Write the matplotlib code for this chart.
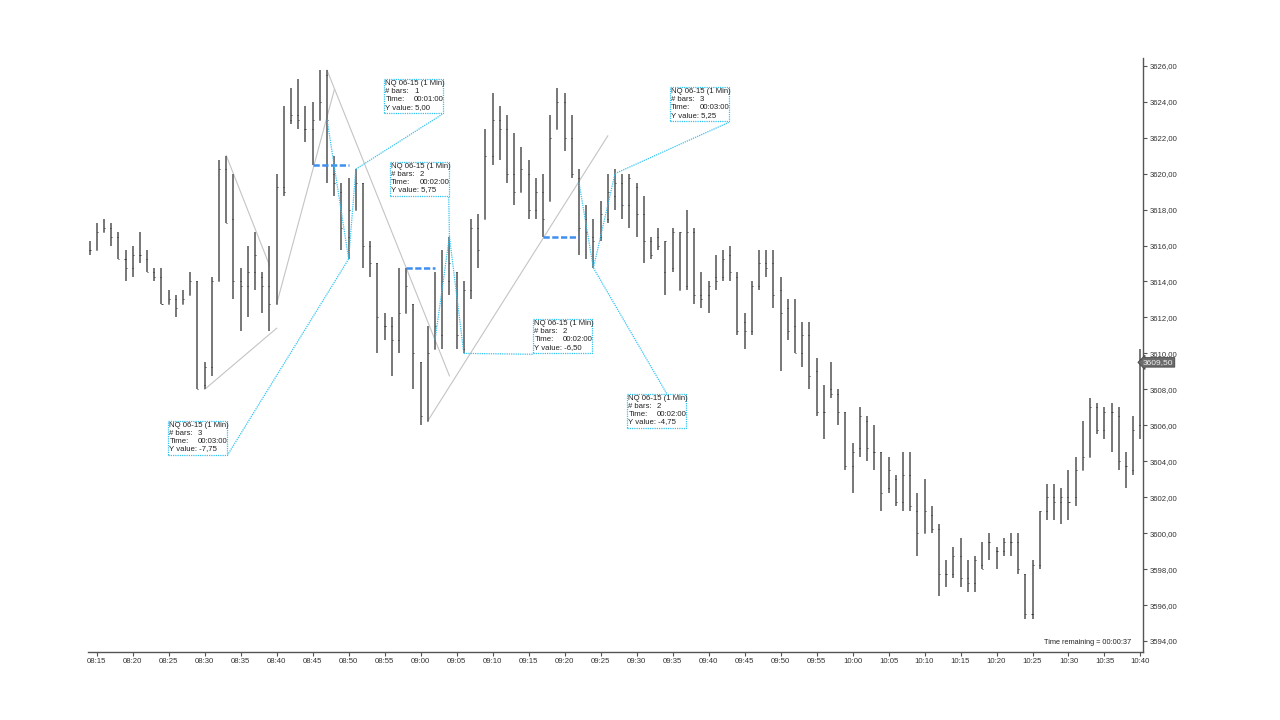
import numpy as np
import matplotlib.pyplot as plt
from matplotlib.patches import Rectangle

plt.rcParams['font.family'] = ['Liberation Sans', 'DejaVu Sans']

# minutes after 08:15 for every 1-min bar (first bar is 08:14)
minutes = list(range(-1, 146))

highs = [
    3616.25, 3617.25, 3617.5, 3617.25, 3616.75, 3615.75, 3616.0, 3616.75, 3615.75, 3614.75,
    3614.75, 3613.5, 3613.25, 3613.5, 3614.5, 3614.0, 3609.5, 3614.25, 3620.75, 3621.0,
    3620.0, 3614.75, 3616.0, 3616.75, 3614.5, 3616.0, 3620.0, 3623.75, 3624.75, 3625.25,
    3623.75, 3624.0, 3625.75, 3625.75, 3621.0, 3619.5, 3619.75, 3620.25, 3619.5, 3616.25,
    3615.0, 3612.25, 3612.0, 3614.75, 3614.75, 3612.75, 3609.5, 3611.5, 3614.5, 3615.75,
    3616.5, 3614.5, 3614.0, 3617.5, 3617.75, 3622.5, 3624.5, 3623.75, 3623.25, 3622.25,
    3621.5, 3620.75, 3619.75, 3620.0, 3623.25, 3624.75, 3624.5, 3623.25, 3620.25, 3618.25,
    3617.5, 3618.5, 3620.0, 3620.25, 3620.0, 3620.0, 3619.5, 3618.75, 3616.5, 3617.0,
    3616.25, 3617.0, 3616.75, 3618.0, 3617.0, 3614.5, 3614.0, 3615.5, 3615.75, 3616.0,
    3614.5, 3612.25, 3614.0, 3615.75, 3615.75, 3615.75, 3614.25, 3613.0, 3613.0, 3611.75,
    3611.75, 3609.75, 3608.25, 3609.5, 3608.0, 3606.75, 3605.0, 3607.0, 3606.5, 3606.0,
    3604.5, 3604.25, 3603.25, 3604.5, 3604.5, 3602.25, 3603.0, 3601.5, 3600.5, 3598.5,
    3599.25, 3599.75, 3598.5, 3598.75, 3599.5, 3600.0, 3599.25, 3599.75, 3600.0, 3600.0,
    3597.75, 3598.5, 3601.25, 3602.75, 3602.75, 3602.5, 3603.5, 3604.25, 3606.25, 3607.5,
    3607.25, 3607.0, 3607.25, 3607.0, 3604.5, 3606.5, 3610.25,
]
lows = [
    3615.5, 3615.75, 3616.75, 3616.0, 3615.25, 3614.0, 3614.25, 3615.0, 3614.5, 3614.0,
    3612.75, 3612.75, 3612.0, 3612.75, 3613.25, 3608.0, 3608.0, 3608.75, 3614.0, 3617.25,
    3613.0, 3611.25, 3612.0, 3613.5, 3612.25, 3611.25, 3612.75, 3618.75, 3622.75, 3622.5,
    3621.75, 3620.5, 3623.0, 3619.5, 3618.75, 3615.75, 3615.25, 3618.0, 3614.75, 3614.25,
    3610.0, 3610.75, 3608.75, 3610.0, 3612.25, 3608.0, 3606.0, 3606.25, 3610.25, 3610.25,
    3613.25, 3610.25, 3610.0, 3613.0, 3614.75, 3617.5, 3620.5, 3620.75, 3619.5, 3618.25,
    3619.0, 3617.5, 3617.5, 3616.5, 3618.5, 3622.5, 3621.25, 3619.75, 3615.5, 3615.25,
    3614.75, 3616.25, 3617.25, 3618.0, 3617.5, 3617.0, 3616.5, 3615.0, 3615.25, 3615.75,
    3613.25, 3614.5, 3613.5, 3613.5, 3612.75, 3612.5, 3612.25, 3613.5, 3614.0, 3614.0,
    3611.0, 3610.25, 3611.0, 3613.5, 3614.25, 3612.5, 3609.0, 3610.75, 3610.0, 3609.25,
    3608.0, 3606.5, 3605.25, 3607.5, 3606.0, 3603.5, 3602.25, 3604.25, 3604.0, 3603.5,
    3601.25, 3602.25, 3601.5, 3601.25, 3601.25, 3598.75, 3600.0, 3600.0, 3596.5, 3597.0,
    3597.5, 3597.0, 3596.75, 3596.75, 3598.0, 3598.5, 3598.0, 3598.75, 3598.75, 3597.75,
    3595.25, 3595.25, 3598.0, 3600.75, 3600.75, 3600.5, 3600.75, 3601.5, 3603.5, 3604.25,
    3605.5, 3605.25, 3604.5, 3603.5, 3602.5, 3603.25, 3605.25,
]
opens = [
    3615.75, 3615.75, 3616.75, 3617.0, 3616.5, 3615.25, 3614.75, 3615.5, 3615.25, 3614.5,
    3614.25, 3612.75, 3613.0, 3612.75, 3613.25, 3614.0, 3608.25, 3609.25, 3614.0, 3620.25,
    3617.5, 3614.0, 3613.75, 3614.5, 3614.25, 3613.75, 3612.75, 3619.25, 3623.0, 3623.25,
    3622.5, 3622.5, 3623.0, 3625.5, 3620.0, 3619.0, 3616.5, 3618.0, 3619.5, 3616.0,
    3615.0, 3611.5, 3611.5, 3610.75, 3612.25, 3612.75, 3609.5, 3606.25, 3610.25, 3611.0,
    3614.0, 3614.5, 3610.25, 3613.5, 3617.0, 3617.5, 3621.0, 3623.0, 3622.5, 3620.0,
    3619.0, 3620.0, 3618.0, 3619.0, 3618.5, 3622.5, 3624.0, 3622.0, 3619.75, 3617.5,
    3616.5, 3616.5, 3617.5, 3618.75, 3619.5, 3618.25, 3619.25, 3617.75, 3616.25, 3616.5,
    3614.5, 3614.75, 3613.5, 3613.75, 3616.75, 3613.25, 3613.25, 3614.25, 3614.25, 3615.5,
    3614.25, 3611.75, 3611.25, 3613.75, 3615.0, 3615.0, 3613.5, 3612.5, 3611.5, 3610.0,
    3611.0, 3609.0, 3606.75, 3608.0, 3607.75, 3606.75, 3603.75, 3604.75, 3606.25, 3604.5,
    3604.5, 3602.5, 3603.0, 3601.75, 3603.25, 3601.25, 3600.0, 3601.0, 3600.25, 3597.75,
    3597.75, 3598.75, 3597.5, 3597.25, 3598.25, 3599.5, 3599.0, 3599.0, 3599.5, 3599.5,
    3597.75, 3595.5, 3598.25, 3601.25, 3602.0, 3601.75, 3602.0, 3602.0, 3603.5, 3604.25,
    3607.0, 3605.75, 3606.75, 3606.5, 3603.75, 3603.5, 3606.0,
]
closes = [
    3615.75, 3616.75, 3617.0, 3616.5, 3615.25, 3614.75, 3615.5, 3615.5, 3614.5, 3614.25,
    3612.75, 3613.0, 3612.5, 3613.0, 3614.0, 3608.0, 3609.25, 3614.0, 3620.25, 3617.25,
    3614.0, 3613.75, 3614.5, 3615.5, 3613.75, 3612.75, 3619.25, 3619.0, 3623.25, 3623.0,
    3622.5, 3623.0, 3624.0, 3623.0, 3619.5, 3617.0, 3618.0, 3619.5, 3616.0, 3615.0,
    3612.0, 3611.5, 3610.75, 3612.25, 3613.75, 3610.0, 3606.5, 3610.0, 3611.5, 3614.0,
    3615.0, 3611.0, 3613.5, 3617.0, 3615.75, 3621.0, 3623.0, 3622.5, 3620.0, 3619.0,
    3620.25, 3618.0, 3619.0, 3617.5, 3622.0, 3624.0, 3622.0, 3620.0, 3617.0, 3616.75,
    3616.25, 3617.75, 3619.0, 3619.5, 3618.25, 3619.75, 3617.75, 3616.25, 3615.5, 3616.0,
    3616.25, 3616.75, 3616.75, 3616.75, 3613.25, 3613.0, 3613.75, 3614.0, 3615.25, 3614.5,
    3611.25, 3611.25, 3613.75, 3615.0, 3614.75, 3613.25, 3612.25, 3611.25, 3610.0, 3611.0,
    3608.75, 3606.75, 3606.75, 3607.75, 3606.75, 3603.75, 3604.5, 3606.5, 3604.75, 3604.5,
    3602.25, 3603.5, 3601.75, 3603.25, 3601.5, 3600.0, 3601.25, 3600.25, 3597.75, 3597.75,
    3598.75, 3597.5, 3597.25, 3598.5, 3598.0, 3599.5, 3599.0, 3599.5, 3599.5, 3598.0,
    3595.5, 3598.25, 3601.25, 3602.0, 3601.75, 3602.0, 3601.75, 3603.5, 3604.25, 3607.0,
    3605.75, 3606.75, 3606.75, 3604.0, 3603.75, 3605.75, 3609.5,
]

# light gray trend lines: (minute, price) -> (minute, price)
trend_t0 = [15, 18, 25, 32, 46]
trend_p0 = [3608.0, 3621.0, 3612.75, 3625.75, 3606.25]
trend_t1 = [25, 24, 33, 49, 71]
trend_p1 = [3611.4, 3614.9, 3624.65, 3608.75, 3622.1]

# ruler measurements
ruler_t0 = [32, 35, 47, 49, 67, 69]
ruler_p0 = [3623.0, 3615.25, 3610.75, 3616.5, 3619.5, 3614.75]
ruler_t1 = [35, 36, 49, 51, 69, 72]
ruler_p1 = [3615.25, 3620.25, 3616.5, 3610.0, 3614.75, 3620.0]
ruler_bars = [3, 1, 2, 2, 2, 3]
ruler_time = ['00:03:00', '00:01:00', '00:02:00', '00:02:00', '00:02:00', '00:03:00']
ruler_yval = ['-7,75', '5,00', '5,75', '-6,50', '-4,75', '5,25']
# text box top-left corner (minute, price) and where the connector meets the box
box_t = [9.9, 39.9, 40.7, 60.6, 73.65, 79.6]
box_p = [3606.25, 3625.25, 3620.65, 3611.9, 3607.75, 3624.8]
link_t = [18.1, 48.0, 48.9, 60.6, 79.2, 87.8]
link_p = [3604.3, 3623.3, 3618.7, 3609.95, 3607.75, 3622.85]

# blue dashed level lines
level_t0 = [30, 43, 62]
level_t1 = [35, 47, 67]
level_p = [3620.5, 3614.75, 3616.5]

last_price = 3609.50
time_remaining = '00:00:37'


def hhmm(m):
    tot = 8 * 60 + 15 + int(m)
    return f'{tot // 60:02d}:{tot % 60:02d}'


def price_fmt(v):
    return f'{v:.2f}'.replace('.', ',')


fig = plt.figure(figsize=(12.8, 7.2), dpi=100)
ax = fig.add_axes([88 / 1280, 68 / 720, 1055 / 1280, 594 / 720])
ax.set_xlim(-1.21, 145.35)
ax.set_ylim(3593.39, 3626.43)

# pixel -> data scale, for the text box layout
px_t = (145.35 + 1.21) / 1055
px_p = (3626.43 - 3593.39) / 594

x = np.array(minutes)
ax.vlines(x, lows, highs, color='#666666', lw=1.25, zorder=3)
ax.hlines(opens, x - 0.14, x, color='#222222', lw=0.6, zorder=4)
ax.hlines(closes, x, x + 0.14, color='#222222', lw=0.6, zorder=4)

for a, b, c, d in zip(trend_t0, trend_p0, trend_t1, trend_p1):
    ax.plot([a, c], [b, d], color='#c4c4c4', lw=0.8, zorder=2)

for a, b, c in zip(level_t0, level_t1, level_p):
    ax.plot([a, b], [c, c], color='#3d8ff0', lw=1.8, ls=(0, (2.5, 1)), zorder=5)

cyan = '#33c4f2'
box_w = 59 * px_t
box_h = 34 * px_p
for i in range(len(ruler_t0)):
    ax.plot([ruler_t0[i], ruler_t1[i]], [ruler_p0[i], ruler_p1[i]],
            color=cyan, lw=0.9, ls=(0, (1, 0.8)), zorder=6)
    ax.plot([ruler_t1[i], link_t[i]], [ruler_p1[i], link_p[i]],
            color=cyan, lw=0.9, ls=(0, (1, 0.8)), zorder=6)
    bx, by = box_t[i], box_p[i]
    ax.add_patch(Rectangle((bx, by - box_h), box_w, box_h, fc='white', ec=cyan,
                           lw=0.9, ls=(0, (1, 0.8)), zorder=7))
    rows = [('NQ 06-15 (1 Min)', ''), ('# bars:', str(ruler_bars[i])),
            ('Time:', ruler_time[i]), ('Y value: ' + ruler_yval[i], '')]
    for j, (lab, val) in enumerate(rows):
        yy = by - (4.6 + 7.8 * j) * px_p
        ax.text(bx + 1.5 * px_t, yy, lab, fontsize=5.6, color='#222222',
                va='center', ha='left', zorder=8)
        if val:
            ax.text(bx + 30 * px_t, yy, val, fontsize=5.6, color='#222222',
                    va='center', ha='left', zorder=8)

ax.text(0.9886, 0.01, 'Time remaining = ' + time_remaining, transform=ax.transAxes,
        fontsize=5.3, color='#222222', ha='right', va='bottom')

# axes styling
for s in ['top', 'left']:
    ax.spines[s].set_visible(False)
for s in ['right', 'bottom']:
    ax.spines[s].set_color('#555555')
    ax.spines[s].set_linewidth(1.0)

xt = list(range(0, 146, 5))
ax.set_xticks(xt)
ax.set_xticklabels([hhmm(m) for m in xt])
yt = np.arange(3594, 3627, 2)
ax.set_yticks(yt)
ax.set_yticklabels([price_fmt(v) for v in yt])
ax.yaxis.tick_right()
ax.tick_params(axis='both', labelsize=5.6, colors='#555555', labelcolor='#333333',
               length=3, width=0.8, pad=1.5)

ax.text(1.0, last_price, price_fmt(last_price), transform=ax.get_yaxis_transform(),
        fontsize=6.0, color='#eeeeee', ha='left', va='center', zorder=10,
        bbox=dict(boxstyle='larrow,pad=0.15', fc='#6b6b6b', ec='#444444', lw=0.6),
        clip_on=False)

fig.savefig('out.png', dpi=100, facecolor='white')
